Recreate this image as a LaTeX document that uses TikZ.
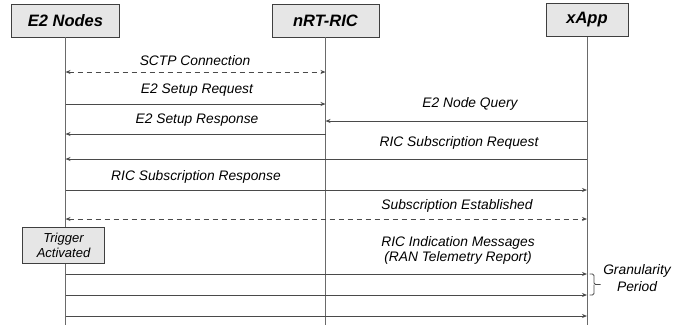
\documentclass[tikz,border=0pt]{standalone}
\usepackage{fontspec}
\setmainfont{Liberation Sans}
\usetikzlibrary{arrows.meta}

\definecolor{boxfill}{HTML}{E6E6E6}
\definecolor{boxline}{HTML}{3F3F3F}
\definecolor{msgline}{HTML}{4A4A4A}
\definecolor{lifeline}{HTML}{6A6A6A}

\tikzset{
  header/.style={draw=boxline, fill=boxfill, line width=0.9pt, inner sep=0pt,
    minimum height=33pt, font=\fontsize{16.5}{19}\selectfont\bfseries\itshape},
  notebox/.style={draw=boxline, fill=boxfill, line width=0.8pt, inner sep=0pt,
    minimum width=82pt, minimum height=36pt, align=center,
    font=\fontsize{13}{15}\selectfont\itshape},
  life/.style={draw=lifeline, line width=0.9pt},
  msg/.style={draw=msgline, line width=0.9pt, -{Stealth[length=5pt,width=4pt]}},
  bimsg/.style={draw=msgline, line width=0.9pt, dash pattern=on 5pt off 4pt,
    {Stealth[length=5pt,width=4pt]}-{Stealth[length=5pt,width=4pt]}},
  lbl/.style={inner sep=0pt, align=center, font=\fontsize{13.8}{16}\selectfont\itshape},
  bracket/.style={draw=msgline, line width=0.9pt, rounded corners=1.5pt},
}

\begin{document}
\begin{tikzpicture}[x=1pt,y=-1pt]
  \useasboundingbox (0,0) rectangle (689,325);

  % participants
  \node[header, minimum width=108pt] (E) at (65.5,20.5) {E2 Nodes};
  \node[header, minimum width=107pt] (R) at (325.5,20.5) {nRT-RIC};
  \node[header, minimum width=82pt]  (X) at (587,20) {xApp};

  % lifeline ends
  \coordinate (Eend) at (65.5,325);
  \coordinate (Rend) at (325.5,325);
  \coordinate (Xend) at (587,325);
  \draw[life] (E.south) -- (Eend);
  \draw[life] (R.south) -- (Rend);
  \draw[life] (X.south) -- (Xend);

  % message anchor points on the lifelines
  \foreach \n/\y in {sctp/72, req/104, rsp/134, qry/121, sreq/159, srsp/190,
                     est/219, ind1/274, ind2/295, ind3/316} {
    \coordinate (E-\n) at (65.5,\y);
    \coordinate (R-\n) at (325.5,\y);
    \coordinate (X-\n) at (587,\y);
  }

  % messages
  \draw[bimsg] (E-sctp) -- (R-sctp);
  \node[lbl] (l-sctp) at (195,61) {SCTP Connection};

  \draw[msg] (E-req) -- (R-req);
  \node[lbl] (l-req) at (197,90) {E2 Setup Request};

  \draw[msg] (R-rsp) -- (E-rsp);
  \node[lbl] (l-rsp) at (197,120) {E2 Setup Response};

  \draw[msg] (X-qry) -- (R-qry);
  \node[lbl] (l-qry) at (470,104) {E2 Node Query};

  \draw[msg] (X-sreq) -- (E-sreq);
  \node[lbl] (l-sreq) at (459,143) {RIC Subscription Request};

  \draw[msg] (E-srsp) -- (X-srsp);
  \node[lbl] (l-srsp) at (196,177) {RIC Subscription Response};

  \draw[bimsg] (E-est) -- (X-est);
  \node[lbl] (l-est) at (457,206) {Subscription Established};

  % trigger and periodic indications
  \node[notebox] (T) at (63.5,245) {Trigger\\Activated};
  \node[lbl, font=\fontsize{13.8}{15.5}\selectfont\itshape] (l-ind) at (458,250.5)
    {RIC Indication Messages\\(RAN Telemetry Report)};

  \draw[msg] (E-ind1) -- (X-ind1);
  \draw[msg] (E-ind2) -- (X-ind2);
  \draw[msg] (E-ind3) -- (X-ind3);

  % granularity bracket
  \coordinate (b-top) at (589.5,274);
  \coordinate (b-bot) at (589.5,295);
  \coordinate (b-tip) at (600.5,284.5);
  \draw[bracket] (b-top) -| (594,284.5) -- (b-tip);
  \draw[bracket] (b-bot) -| (594,284.5);
  \node[lbl, font=\fontsize{13.8}{17}\selectfont\itshape] (gran) at (637,278.5)
    {Granularity\\Period};
\end{tikzpicture}
\end{document}
